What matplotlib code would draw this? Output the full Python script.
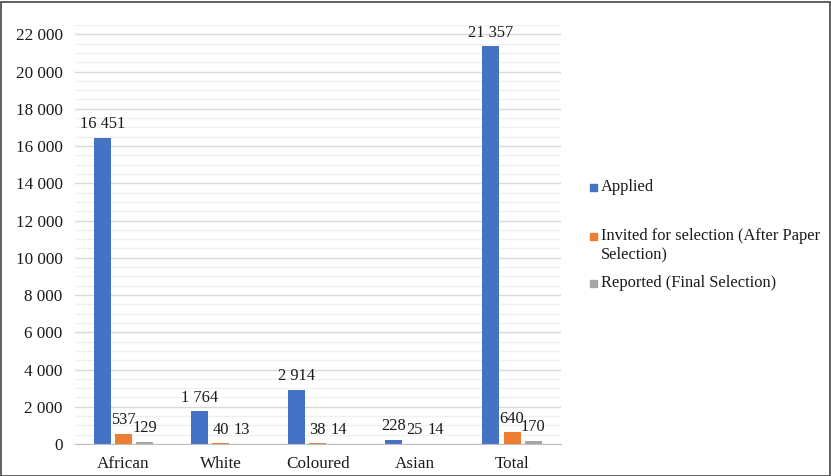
import matplotlib.pyplot as plt
import numpy as np
from matplotlib.patches import Rectangle

plt.rcParams['font.family'] = ['Liberation Serif', 'DejaVu Serif']

categories = ["African", "White", "Coloured", "Asian", "Total"]
applied = [16451, 1764, 2914, 228, 21357]
invited = [537, 40, 38, 25, 640]
reported = [129, 13, 14, 14, 170]
series_names = ["Applied", "Invited for selection (After Paper\nSelection)",
                "Reported (Final Selection)"]
colors = ["#4472C4", "#ED7D31", "#A5A5A5"]


def fmt(v):
    return f"{v:,}".replace(",", " ")


fig = plt.figure(figsize=(8.31, 4.76), dpi=100)
ax = fig.add_axes([75 / 831, 32 / 476, 485.6 / 831, 419 / 476])

x = np.arange(len(categories))
w = 0.175
step = 0.219
for i, (vals, c) in enumerate(zip([applied, invited, reported], colors)):
    bars = ax.bar(x + (i - 1) * step, vals, width=w, color=c, zorder=3)
    for b, v in zip(bars, vals):
        ax.annotate(fmt(v), (b.get_x() + b.get_width() / 2, v),
                    xytext=(0, 4), textcoords="offset points",
                    ha="center", va="bottom", fontsize=11.8, color="#1a1a1a")

ax.set_xlim(-0.5, len(categories) - 0.5)
ax.set_ylim(0, 22500)
ax.set_yticks(np.arange(0, 22001, 2000))
ax.set_yticklabels([fmt(v) for v in range(0, 22001, 2000)])
ax.set_yticks(np.arange(0, 22501, 500), minor=True)
ax.set_xticks(x)
ax.set_xticklabels(categories)
ax.tick_params(axis="both", length=0, labelsize=12.3, colors="#1a1a1a")
ax.tick_params(axis="y", which="minor", length=0)
ax.tick_params(axis="y", pad=9)
ax.tick_params(axis="x", pad=9)
ax.grid(axis="y", which="major", color="#D9D9D9", lw=1, zorder=0)
ax.grid(axis="y", which="minor", color="#F0F0F0", lw=1, zorder=0)
for s in ["top", "right", "left"]:
    ax.spines[s].set_visible(False)
ax.spines["bottom"].set_color("#BFBFBF")
ax.spines["bottom"].set_zorder(4)

# legend, placed like the original
leg_y = [187, 245, 283]
for name, c, yy in zip(series_names, colors, leg_y):
    fig.text(601 / 831, 1 - yy / 476, name, fontsize=11.9, va="center",
             ha="left", color="#1a1a1a", linespacing=1.15)
    sq_y = yy - 9 if "\n" in name else yy
    fig.patches.append(Rectangle((590 / 831, 1 - (sq_y + 3.5) / 476),
                                 7 / 831, 7 / 476, color=c,
                                 transform=fig.transFigure, figure=fig))

fig.patches.append(Rectangle((0.5 / 831, 0.5 / 476), 829 / 831, 474 / 476,
                             fill=False, ec="#444444", lw=1.2,
                             transform=fig.transFigure, figure=fig))

fig.savefig("out.png", dpi=100)
